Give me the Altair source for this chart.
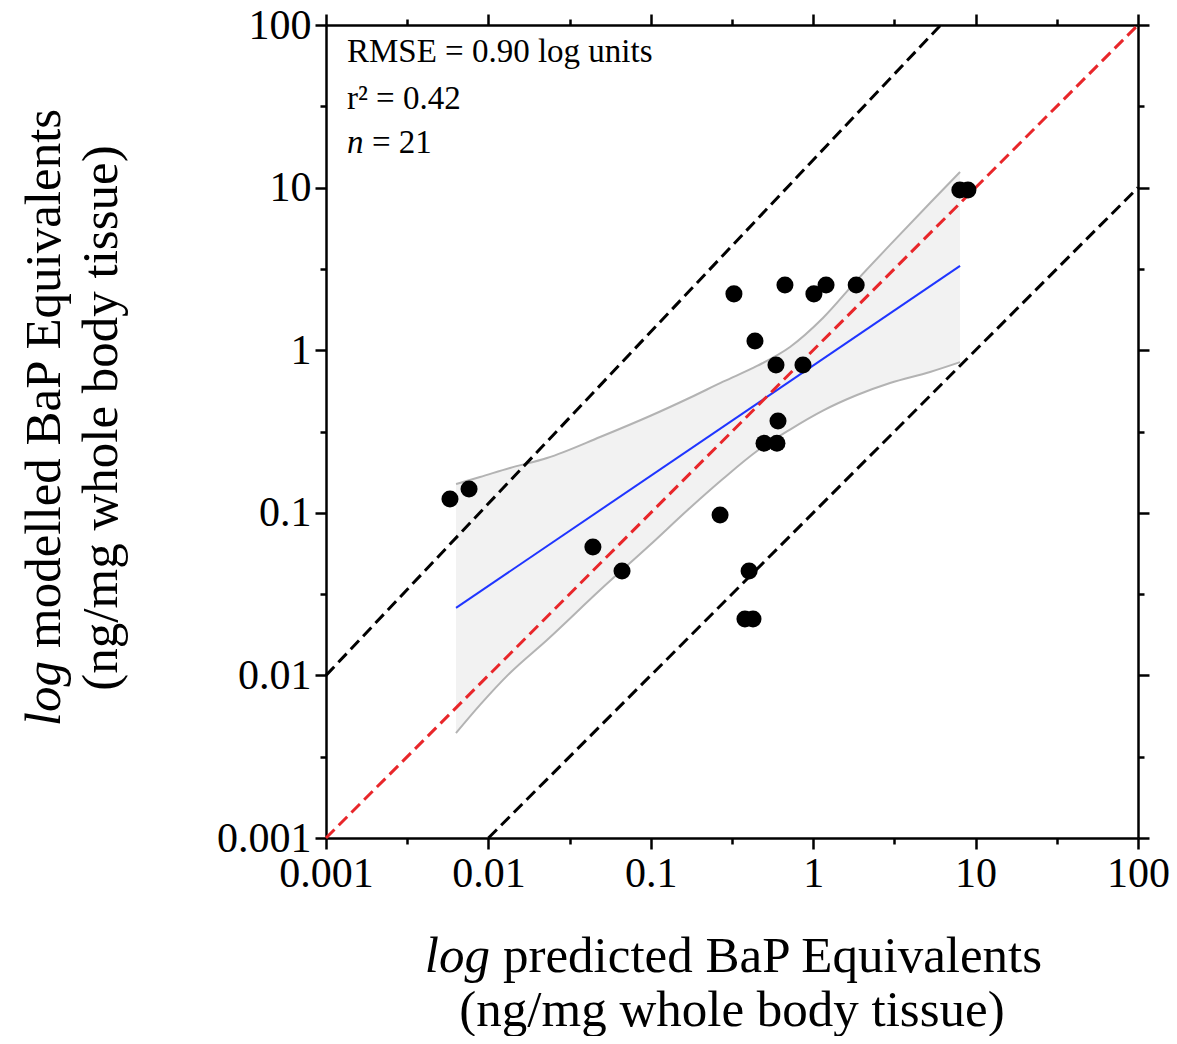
import altair as alt
import pandas as pd

# ---- data ----
pred = [0.0058, 0.0076, 0.044, 0.0665, 0.267, 0.325, 0.438, 0.67, 1.01, 1.2, 1.84,
        0.59, 0.865, 0.607, 0.498, 0.598, 0.403, 0.38, 0.426, 8.0, 8.97]
modelled = [0.1216, 0.140, 0.0616, 0.0438, 0.097, 2.22, 1.14, 2.52, 2.22, 2.52, 2.52,
            0.81, 0.81, 0.367, 0.268, 0.268, 0.0438, 0.0222, 0.0222, 9.66, 9.66]

band_x = [0.00632, 0.00888, 0.01358, 0.02296, 0.0487, 0.0988, 0.174, 0.2786,
          0.451, 0.72, 1.148, 1.861, 2.972, 5.24, 8.02]
band_upper = [0.1503, 0.166, 0.1887, 0.2173, 0.2924, 0.3937, 0.510, 0.640,
              0.800, 1.047, 1.578, 2.70, 4.44, 8.04, 12.47]
band_lower = [0.00442, 0.00658, 0.01035, 0.01652, 0.0335, 0.0634, 0.1071, 0.162,
              0.240, 0.325, 0.425, 0.530, 0.628, 0.735, 0.845]

fit_x = [0.00632, 8.02]
fit_y = [0.026, 3.30]

one_x = [0.001, 100]
one_y = [0.001, 100]
up_x = [0.001, 6.1]
up_y = [0.01, 100]
lo_x = [0.01, 100]
lo_y = [0.001, 10]

major = [0.001, 0.01, 0.1, 1, 10, 100]
minor = [0.00316, 0.0316, 0.316, 3.16, 31.6]

stats = ["RMSE = 0.90 log units", "r\u00b2 = 0.42"]
stats_y = [59.2, 30.4]
n_label = "n"
n_value = "= 21"
n_y = 16.3
stats_x = 0.001346

FONT = "Liberation Serif"

band_df = pd.DataFrame({"x": band_x, "hi": band_upper, "lo": band_lower})
pts_df = pd.DataFrame({"x": pred, "y": modelled})
fit_df = pd.DataFrame({"x": fit_x, "y": fit_y})
one_df = pd.DataFrame({"x": one_x, "y": one_y})
dash_df = pd.DataFrame({"x": up_x + lo_x, "y": up_y + lo_y, "g": ["u", "u", "l", "l"]})

xs = alt.Scale(type="log", domain=[0.001, 100], nice=False)
ys = alt.Scale(type="log", domain=[0.001, 100], nice=False)


def major_axis(orient, labels):
    return alt.Axis(orient=orient, values=major, tickSize=11, labels=labels, title=None,
                    domain=True, format="~g", labelOverlap=False, labelFlush=False,
                    labelBound=False, ticks=True)


def minor_axis(orient):
    return alt.Axis(orient=orient, values=minor, tickSize=6, labels=False, title=None,
                    domain=False, ticks=True)


band = alt.Chart(band_df).mark_area(color="#f2f2f2", opacity=1, interpolate="monotone").encode(
    x=alt.X("x:Q", scale=xs, axis=major_axis("bottom", True)),
    y=alt.Y("lo:Q", scale=ys, axis=major_axis("left", True)),
    y2="hi:Q",
)
band_hi = alt.Chart(band_df).mark_line(color="#b3b3b3", strokeWidth=2, interpolate="monotone").encode(
    x=alt.X("x:Q", scale=xs, axis=major_axis("top", False)),
    y=alt.Y("hi:Q", scale=ys, axis=major_axis("right", False)),
)
band_lo = alt.Chart(band_df).mark_line(color="#b3b3b3", strokeWidth=2, interpolate="monotone").encode(
    x=alt.X("x:Q", scale=xs, axis=minor_axis("bottom")),
    y=alt.Y("lo:Q", scale=ys, axis=minor_axis("left")),
)
fit = alt.Chart(fit_df).mark_line(color="#1f35ff", strokeWidth=2).encode(
    x=alt.X("x:Q", scale=xs, axis=minor_axis("top")),
    y=alt.Y("y:Q", scale=ys, axis=minor_axis("right")),
)
one = alt.Chart(one_df).mark_line(color="#e8262a", strokeWidth=3, strokeDash=[12, 6]).encode(
    x=alt.X("x:Q", scale=xs, axis=None),
    y=alt.Y("y:Q", scale=ys, axis=None),
)
dashes = alt.Chart(dash_df).mark_line(color="black", strokeWidth=3, strokeDash=[12, 6]).encode(
    x=alt.X("x:Q", scale=xs, axis=None),
    y=alt.Y("y:Q", scale=ys, axis=None),
    detail="g:N",
)
points = alt.Chart(pts_df).mark_circle(color="black", opacity=1, size=290).encode(
    x=alt.X("x:Q", scale=xs, axis=None),
    y=alt.Y("y:Q", scale=ys, axis=None),
)

stat_df = pd.DataFrame({"x": [stats_x] * 2, "y": stats_y, "t": stats})
stat_text = alt.Chart(stat_df).mark_text(font=FONT, fontSize=33, align="left",
                                         baseline="alphabetic", color="black").encode(
    x=alt.X("x:Q", scale=xs, axis=None),
    y=alt.Y("y:Q", scale=ys, axis=None),
    text="t:N",
)
n_text = alt.Chart(pd.DataFrame({"x": [stats_x], "y": [n_y], "t": [n_label]})).mark_text(
    font=FONT, fontSize=33, fontStyle="italic", align="left", baseline="alphabetic",
    color="black").encode(
    x=alt.X("x:Q", scale=xs, axis=None),
    y=alt.Y("y:Q", scale=ys, axis=None),
    text="t:N",
)
n_val = alt.Chart(pd.DataFrame({"x": [stats_x], "y": [n_y], "t": [n_value]})).mark_text(
    font=FONT, fontSize=33, align="left", baseline="alphabetic", dx=25,
    color="black").encode(
    x=alt.X("x:Q", scale=xs, axis=None),
    y=alt.Y("y:Q", scale=ys, axis=None),
    text="t:N",
)


def label(txt, x, y, align, italic=False, angle=0):
    kw = dict(font=FONT, fontSize=51, align=align, baseline="alphabetic", color="black")
    if italic:
        kw["fontStyle"] = "italic"
    if angle:
        kw["angle"] = angle
    return alt.Chart(pd.DataFrame({"t": [txt]})).mark_text(**kw).encode(
        text="t:N", x=alt.value(x), y=alt.value(y))


titles = [
    label("log", 164, 947, "right", italic=True),
    label("predicted BaP Equivalents", 177, 947, "left"),
    label("(ng/mg whole body tissue)", 406, 1001, "center"),
    label("log", -266, 636, "right", italic=True, angle=270),
    label("modelled BaP Equivalents", -266, 623, "left", angle=270),
    label("(ng/mg whole body tissue)", -209, 393, "center", angle=270),
]

chart = alt.layer(
    band, band_hi, band_lo, fit, one, dashes, points, stat_text, n_text, n_val, *titles
).resolve_axis(x="independent", y="independent").properties(
    width=812, height=813,
    autosize=alt.AutoSizeParams(type="none"),
    padding={"left": 318, "top": 17, "right": 31, "bottom": 198},
).configure_view(stroke=None).configure_axis(
    domainColor="black", domainWidth=2.5, tickColor="black", tickWidth=2.5,
    labelFont=FONT, labelFontSize=42, labelColor="black", grid=False, labelPadding=4,
)

chart.save("out.html", embed_options={"renderer": "svg", "actions": False})
